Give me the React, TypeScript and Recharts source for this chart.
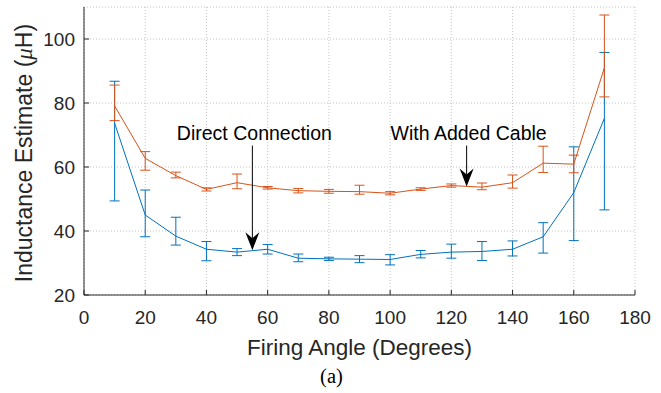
import React from 'react';
import { ComposedChart, Line, XAxis, YAxis, CartesianGrid, ErrorBar, ReferenceLine } from 'recharts';

// Firing angle (degrees)
const angles = [10, 20, 30, 40, 50, 60, 70, 80, 90, 100, 110, 120, 130, 140, 150, 160, 170];

// Direct Connection (blue)
const direct = [73.7, 45.0, 38.4, 34.3, 33.4, 34.3, 31.5, 31.3, 31.2, 31.1, 32.7, 33.4, 33.6, 34.3, 38.2, 52.0, 75.2];
const directLow = [49.4, 38.2, 35.6, 30.7, 32.3, 32.8, 30.4, 30.8, 30.1, 29.4, 31.6, 31.5, 30.8, 32.2, 33.1, 37.0, 46.6];
const directHigh = [86.8, 52.8, 44.3, 36.7, 34.5, 35.8, 32.8, 31.8, 32.3, 32.6, 33.9, 35.9, 36.7, 36.9, 42.6, 66.3, 95.8];

// With Added Cable (orange)
const cable = [79.1, 62.7, 57.3, 53.0, 55.1, 53.5, 52.6, 52.4, 52.3, 51.8, 53.1, 54.2, 53.7, 55.1, 61.2, 60.9, 91.0];
const cableLow = [74.5, 59.0, 56.6, 52.5, 53.2, 53.1, 51.9, 51.8, 51.5, 51.3, 52.7, 53.7, 52.9, 53.4, 58.3, 58.2, 81.9];
const cableHigh = [85.6, 64.8, 58.4, 53.5, 57.8, 53.9, 53.3, 53.0, 54.3, 52.3, 53.5, 54.7, 55.0, 57.5, 66.5, 63.7, 107.5];

// Axis ticks
const xTicks = [0, 20, 40, 60, 80, 100, 120, 140, 160, 180];
const yTicks = [20, 40, 60, 80, 100];

// Annotations
const annoLabels = ['Direct Connection', 'With Added Cable'];
const annoX = [55, 125];
const annoStart = [66.7, 66.7];
const annoTip = [34.0, 53.9];

const data = angles.map((a, i) => ({
  angle: a,
  direct: direct[i],
  directErr: [direct[i] - directLow[i], directHigh[i] - direct[i]],
  cable: cable[i],
  cableErr: [cable[i] - cableLow[i], cableHigh[i] - cable[i]],
}));

const TXT = '#262626';
const FONT = '"Liberation Sans", Arial, Helvetica, sans-serif';
const SERIF = '"Liberation Serif", "Times New Roman", serif';
const BLUE = '#0072BD';
const ORANGE = '#D95319';

const BottomTick = (p: any) => (
  <g>
    <line x1={p.x} y1={p.y} x2={p.x} y2={p.y - 5} stroke={TXT} strokeWidth={1} />
    <text x={p.x} y={p.y + 29} textAnchor="middle" fontSize={19} fill={TXT} fontFamily={FONT}>
      {p.payload.value}
    </text>
  </g>
);

const LeftTick = (p: any) => (
  <g>
    <line x1={p.x} y1={p.y} x2={p.x + 5} y2={p.y} stroke={TXT} strokeWidth={1} />
    <text x={p.x - 9} y={p.y + 7} textAnchor="end" fontSize={19} fill={TXT} fontFamily={FONT}>
      {p.payload.value}
    </text>
  </g>
);

const TopTick = (p: any) => (
  <line x1={p.x} y1={p.y} x2={p.x} y2={p.y + 5} stroke={TXT} strokeWidth={1} />
);

const RightTick = (p: any) => (
  <line x1={p.x} y1={p.y} x2={p.x - 5} y2={p.y} stroke={TXT} strokeWidth={1} />
);

const XLabel = (props: any) => {
  const vb = props.viewBox || {};
  const cx = vb.x + vb.width / 2;
  return (
    <g>
      <text x={cx} y={vb.y + 60} textAnchor="middle" fontSize={22.5} fill={TXT} fontFamily={FONT}>
        Firing Angle (Degrees)
      </text>
      <text x={cx - 28} y={vb.y + 88} textAnchor="middle" fontSize={20.5} fill="#000" fontFamily={SERIF}>
        (a)
      </text>
    </g>
  );
};

const YLabel = (props: any) => {
  const vb = props.viewBox || {};
  const x = vb.x + 31.5;
  const y = vb.y + vb.height / 2 + 2;
  return (
    <text x={x} y={y} transform={`rotate(-90, ${x}, ${y})`} textAnchor="middle" fontSize={23} fill={TXT} fontFamily={FONT}>
      Inductance Estimate (
      <tspan fontStyle="italic" fontFamily={SERIF}>μ</tspan>
      H)
    </text>
  );
};

const makeArrow = (label: string) => (p: any) => {
  const x = p.x1;
  const top = Math.min(p.y1, p.y2);
  const tip = Math.max(p.y1, p.y2);
  return (
    <g>
      <line x1={x} y1={top} x2={x} y2={tip - 12} stroke="#000" strokeWidth={1} />
      <polygon points={`${x},${tip} ${x - 7},${tip - 18} ${x},${tip - 12} ${x + 7},${tip - 18}`} fill="#000" />
      <text x={x + 2} y={top - 5.5} textAnchor="middle" fontSize={19.5} fill="#000" fontFamily={FONT}>
        {label}
      </text>
    </g>
  );
};

export default function App() {
  return (
    <div style={{ position: 'absolute', left: 0, top: 0, background: '#fff' }}>
      <ComposedChart width={661} height={393} data={data} margin={{ top: 7, right: 26, left: 0, bottom: 0 }}>
        <CartesianGrid stroke="#c4c4c4" strokeDasharray="1 2" xAxisId="x" yAxisId="y" />
        <XAxis
          xAxisId="x"
          dataKey="angle"
          type="number"
          domain={[0, 180]}
          ticks={xTicks}
          interval={0}
          allowDataOverflow
          height={98}
          tickSize={0}
          tickMargin={0}
          tickLine={false}
          tick={BottomTick}
          axisLine={{ stroke: TXT, strokeWidth: 1 }}
          label={<XLabel />}
        />
        <XAxis
          xAxisId="top"
          orientation="top"
          dataKey="angle"
          type="number"
          domain={[0, 180]}
          ticks={xTicks}
          interval={0}
          allowDataOverflow
          height={0}
          tickSize={0}
          tickMargin={0}
          tickLine={false}
          tick={TopTick}
          axisLine={{ stroke: TXT, strokeWidth: 1 }}
        />
        <YAxis
          yAxisId="y"
          type="number"
          domain={[20, 110]}
          ticks={yTicks}
          interval={0}
          allowDataOverflow
          width={84}
          tickSize={0}
          tickMargin={0}
          tickLine={false}
          tick={LeftTick}
          axisLine={{ stroke: TXT, strokeWidth: 1 }}
          label={<YLabel />}
        />
        <YAxis
          yAxisId="right"
          orientation="right"
          type="number"
          domain={[20, 110]}
          ticks={yTicks}
          interval={0}
          allowDataOverflow
          width={0}
          tickSize={0}
          tickMargin={0}
          tickLine={false}
          tick={RightTick}
          axisLine={{ stroke: TXT, strokeWidth: 1 }}
        />
        <Line
          xAxisId="x"
          yAxisId="y"
          type="linear"
          dataKey="direct"
          stroke={BLUE}
          strokeWidth={1}
          dot={false}
          isAnimationActive={false}
        >
          <ErrorBar dataKey="directErr" direction="y" width={5} stroke={BLUE} strokeWidth={1} isAnimationActive={false} />
        </Line>
        <Line
          xAxisId="x"
          yAxisId="y"
          type="linear"
          dataKey="cable"
          stroke={ORANGE}
          strokeWidth={1}
          dot={false}
          isAnimationActive={false}
        >
          <ErrorBar dataKey="cableErr" direction="y" width={5} stroke={ORANGE} strokeWidth={1} isAnimationActive={false} />
        </Line>
        {annoLabels.map((lab, i) => (
          <ReferenceLine
            key={lab}
            xAxisId="x"
            yAxisId="y"
            segment={[
              { x: annoX[i], y: annoStart[i] },
              { x: annoX[i], y: annoTip[i] },
            ]}
            ifOverflow="visible"
            shape={makeArrow(lab)}
          />
        ))}
      </ComposedChart>
    </div>
  );
}
